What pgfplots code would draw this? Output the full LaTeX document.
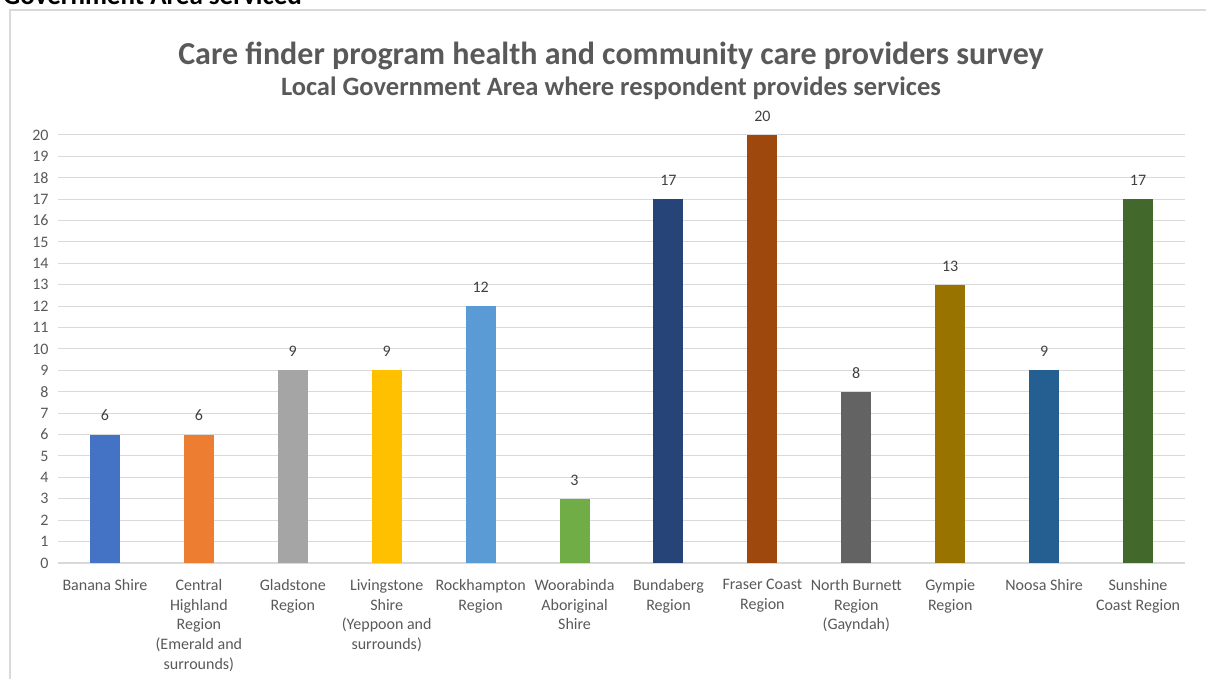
\documentclass[border=0pt]{standalone}
\usepackage{pgfplots}
\pgfplotsset{compat=1.18}
\usepackage{fontspec}
\setmainfont{Carlito}
\definecolor{gridc}{HTML}{D9D9D9}
\definecolor{txt}{HTML}{595959}
\definecolor{lbl}{HTML}{404040}
\definecolor{c1}{HTML}{4472C4}
\definecolor{c2}{HTML}{ED7D31}
\definecolor{c3}{HTML}{A5A5A5}
\definecolor{c4}{HTML}{FFC000}
\definecolor{c5}{HTML}{5B9BD5}
\definecolor{c6}{HTML}{70AD47}
\definecolor{c7}{HTML}{264478}
\definecolor{c8}{HTML}{9E480E}
\definecolor{c9}{HTML}{636363}
\definecolor{c10}{HTML}{997300}
\definecolor{c11}{HTML}{255E91}
\definecolor{c12}{HTML}{43682B}
\begin{document}
\begin{tikzpicture}
\path[use as bounding box] (0,0) rectangle (1206bp,679bp);
\clip (0,0) rectangle (1206bp,679bp);
\draw[gridc, line width=1.4bp] (10bp,-20bp) rectangle (1240bp,669bp);
\node[anchor=base west, font=\fontsize{27bp}{30bp}\selectfont\bfseries, inner sep=0] at (3bp,674bp) {Government Area serviced};
\node[font=\fontsize{32bp}{36bp}\selectfont\bfseries, text=txt] at (611bp,623bp) {Care finder program health and community care providers survey};
\node[font=\fontsize{26.5bp}{30bp}\selectfont\bfseries, text=txt] at (611bp,591bp) {Local Government Area where respondent provides services};
\begin{axis}[
  at={(58bp,116bp)}, anchor=south west,
  scale only axis, width=1127bp, height=428bp,
  xmin=-0.5, xmax=11.5, ymin=0, ymax=20,
  ytick={0,1,...,20},
  xtick={0,...,11},
  xticklabels={Banana Shire, {Central\\Highland\\Region\\(Emerald and\\surrounds)}, {Gladstone\\Region}, {Livingstone\\Shire\\(Yeppoon and\\surrounds)}, {Rockhampton\\Region}, {Woorabinda\\Aboriginal\\Shire}, {Bundaberg\\Region}, {Fraser Coast\\Region}, {North Burnett\\Region\\(Gayndah)}, {Gympie\\Region}, Noosa Shire, {Sunshine\\Coast Region}},
  xticklabel style={align=center, font=\fontsize{16bp}{19.6bp}\selectfont, text=txt, anchor=north, yshift=-13bp},
  yticklabel style={font=\fontsize{16bp}{18bp}\selectfont, text=txt, xshift=-6bp},
  /pgf/number format/assume math mode=true,
  axis line style={draw=none},
  major tick length=0pt,
  ymajorgrids, grid style={gridc, line width=1bp},
  ybar, bar width=30bp, bar shift=0pt,
  nodes near coords,
  every node near coord/.append style={font=\fontsize{16bp}{18bp}\selectfont, text=lbl, yshift=10bp},
  clip=false,
]
\draw[gridc, line width=1.6bp] (axis cs:-0.5,0) -- (axis cs:11.5,0);
\addplot[fill=c1, draw=none] coordinates {(0,6)};
\addplot[fill=c2, draw=none] coordinates {(1,6)};
\addplot[fill=c3, draw=none] coordinates {(2,9)};
\addplot[fill=c4, draw=none] coordinates {(3,9)};
\addplot[fill=c5, draw=none] coordinates {(4,12)};
\addplot[fill=c6, draw=none] coordinates {(5,3)};
\addplot[fill=c7, draw=none] coordinates {(6,17)};
\addplot[fill=c8, draw=none] coordinates {(7,20)};
\addplot[fill=c9, draw=none] coordinates {(8,8)};
\addplot[fill=c10, draw=none] coordinates {(9,13)};
\addplot[fill=c11, draw=none] coordinates {(10,9)};
\addplot[fill=c12, draw=none] coordinates {(11,17)};
\end{axis}
\end{tikzpicture}
\end{document}
